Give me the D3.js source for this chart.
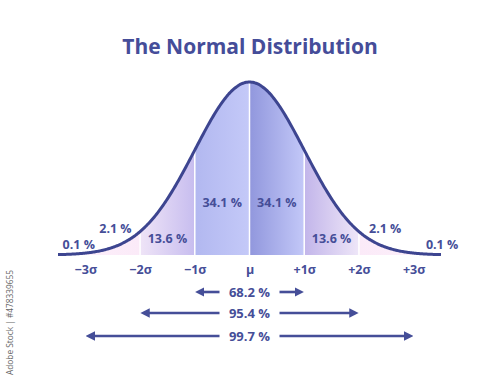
<!DOCTYPE html>
<html>
<head>
<meta charset="utf-8">
<script src="https://cdn.jsdelivr.net/npm/d3@7"></script>
<style>
  body { margin: 0; background: #fff; }
  svg text { font-family: "Open Sans", "Noto Sans", sans-serif; font-weight: 700; }
</style>
</head>
<body>
<div id="chart"></div>
<script>
// data
const sigmaTicks = [-3, -2, -1, 0, 1, 2, 3];
const sigmaLabels = ["\u22123\u03c3", "\u22122\u03c3", "\u22121\u03c3", "\u03bc", "+1\u03c3", "+2\u03c3", "+3\u03c3"];
const bandEdges = [-3.5, -2, -1, 0, 1, 2, 3.5];
const bandPercents = ["2.1 %", "13.6 %", "34.1 %", "34.1 %", "13.6 %", "2.1 %"];
const tailPercents = ["0.1 %", "0.1 %"];
const rangeSigmas = [1, 2, 3];
const rangePercents = ["68.2 %", "95.4 %", "99.7 %"];

const width = 500, height = 383;
const ink = "#454e98";

const pdf = z => Math.exp(-z * z / 2);

const x = d3.scaleLinear().domain([-3.5, 3.5]).range([58, 441]);
const y = d3.scaleLinear().domain([0, 1]).range([255, 82]);

const svg = d3.select("#chart").append("svg")
  .attr("width", width).attr("height", height);

const defs = svg.append("defs");
const grads = [
  ["g0", "#fdf1fb", "#fbeaf8"],
  ["g1", "#efe4f7", "#c7bdef"],
  ["g2", "#b2b8f0", "#c4c9f8"],
  ["g3", "#9197dd", "#c3c8f8"],
  ["g4", "#c2b5ea", "#eee6f8"],
  ["g5", "#fbeaf8", "#fdf2fb"]
];
grads.forEach(([id, a, b]) => {
  const g = defs.append("linearGradient").attr("id", id)
    .attr("x1", "0%").attr("x2", "100%").attr("y1", "0%").attr("y2", "0%");
  g.append("stop").attr("offset", "0%").attr("stop-color", a);
  g.append("stop").attr("offset", "100%").attr("stop-color", b);
});

// watermark id on left edge
svg.append("text")
  .attr("transform", "translate(13,375) rotate(-90)")
  .attr("font-size", 8.3).style("font-weight", 400)
  .attr("fill", "#666")
  .text("Adobe Stock | #478339655");

// title
svg.append("text")
  .attr("x", 250).attr("y", 54)
  .attr("text-anchor", "middle")
  .attr("font-size", 21)
  .attr("fill", "#454d99")
  .text("The Normal Distribution");

// bands under curve
const area = d3.area()
  .x(d => x(d)).y0(y(0)).y1(d => y(pdf(d)))
  .curve(d3.curveBasis);

for (let i = 0; i < bandEdges.length - 1; i++) {
  const pts = d3.range(bandEdges[i], bandEdges[i + 1] + 1e-9, 0.02);
  if (pts[pts.length - 1] < bandEdges[i + 1]) pts.push(bandEdges[i + 1]);
  svg.append("path").datum(pts)
    .attr("d", area)
    .attr("fill", `url(#g${i})`);
}

// white separators
svg.append("g").selectAll("line")
  .data([-2, -1, 0, 1, 2])
  .join("line")
  .attr("x1", d => x(d)).attr("x2", d => x(d))
  .attr("y1", y(0)).attr("y2", d => y(pdf(d)))
  .attr("stroke", "#fff").attr("stroke-width", 1.5);

// curve
const curvePts = d3.range(-3.5, 3.5001, 0.02);
svg.append("path").datum(curvePts)
  .attr("d", d3.line().x(d => x(d)).y(d => y(pdf(d))).curve(d3.curveBasis))
  .attr("fill", "none")
  .attr("stroke", "#3d4590")
  .attr("stroke-width", 3);

// percentage labels (layout positions in sigma units / pixel y)
const bandLabelPos = [[-2.45, 233], [-1.5, 243], [-0.5, 207], [0.5, 207], [1.5, 243], [2.48, 233]];
svg.append("g").selectAll("text")
  .data(bandPercents)
  .join("text")
  .attr("x", (d, i) => x(bandLabelPos[i][0]))
  .attr("y", (d, i) => bandLabelPos[i][1])
  .attr("text-anchor", "middle")
  .attr("font-size", 12.5)
  .attr("fill", ink)
  .text(d => d);

const tailPos = [[-3.12, 249], [3.52, 249]];
svg.append("g").selectAll("text")
  .data(tailPercents)
  .join("text")
  .attr("x", (d, i) => x(tailPos[i][0]))
  .attr("y", (d, i) => tailPos[i][1])
  .attr("text-anchor", "middle")
  .attr("font-size", 12.5)
  .attr("fill", ink)
  .text(d => d);

// sigma axis
const axis = svg.append("g")
  .attr("transform", "translate(0,265)")
  .call(d3.axisBottom(x).tickValues(sigmaTicks)
    .tickFormat((d, i) => sigmaLabels[i]).tickSize(0).tickPadding(0));
axis.select(".domain").remove();
axis.selectAll("text")
  .attr("font-size", 12.5)
  .attr("fill", ink)
  .style("font-family", "'Open Sans', sans-serif")
  .style("font-weight", 700);

// range arrows
defs.append("marker").attr("id", "arrow")
  .attr("viewBox", "0 0 10 10").attr("refX", 5).attr("refY", 5)
  .attr("markerWidth", 3.6).attr("markerHeight", 3.6)
  .attr("markerUnits", "strokeWidth")
  .attr("orient", "auto")
  .append("path").attr("d", "M0,0 L10,5 L0,10 Z").attr("fill", ink);

const rangeY = [297, 318, 341];
const gap = 30;
const rg = svg.append("g");
rangeSigmas.forEach((s, i) => {
  const yy = rangeY[i];
  rg.append("line")
    .attr("x1", x(0) - gap).attr("x2", x(-s) + 5)
    .attr("y1", yy - 5).attr("y2", yy - 5)
    .attr("stroke", ink).attr("stroke-width", 2.6)
    .attr("marker-end", "url(#arrow)");
  rg.append("line")
    .attr("x1", x(0) + gap).attr("x2", x(s) - 5)
    .attr("y1", yy - 5).attr("y2", yy - 5)
    .attr("stroke", ink).attr("stroke-width", 2.6)
    .attr("marker-end", "url(#arrow)");
  rg.append("text")
    .attr("x", x(0)).attr("y", yy)
    .attr("text-anchor", "middle")
    .attr("font-size", 13)
    .attr("fill", ink)
    .text(rangePercents[i]);
});
</script>
</body>
</html>
